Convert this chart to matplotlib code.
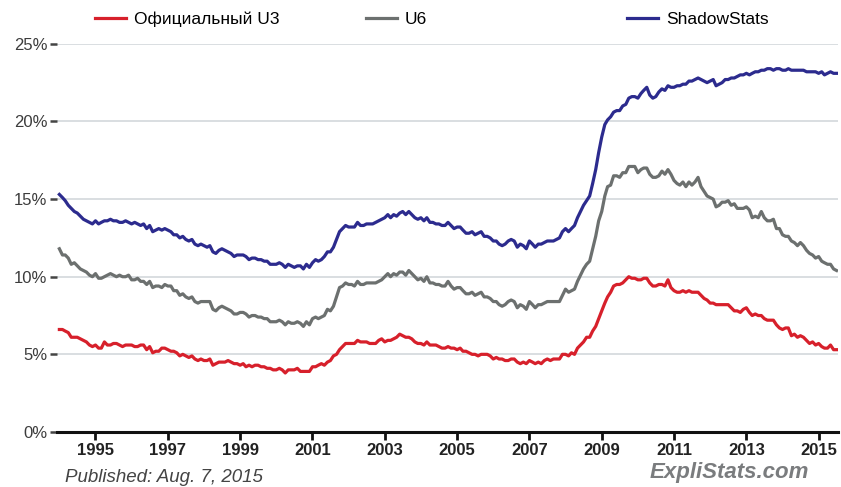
# -*- coding: utf-8 -*-
"""
Безработица в США: официальная U3, U6 и оценка ShadowStats (1994-2015)
"""

import datetime
import matplotlib
matplotlib.use('Agg')
import matplotlib.pyplot as plt
import matplotlib.dates as mdates
import pandas as pd

matplotlib.rcParams['font.family'] = ['Liberation Sans', 'DejaVu Sans']

# помесячные значения, янв. 1994 - июль 2015
u3 = [
    6.6, 6.6, 6.5, 6.4, 6.1, 6.1, 6.1, 6.0, 5.9, 5.8, 5.6, 5.5,
    5.6, 5.4, 5.4, 5.8, 5.6, 5.6, 5.7, 5.7, 5.6, 5.5, 5.6, 5.6,
    5.6, 5.5, 5.5, 5.6, 5.6, 5.3, 5.5, 5.1, 5.2, 5.2, 5.4, 5.4,
    5.3, 5.2, 5.2, 5.1, 4.9, 5.0, 4.9, 4.8, 4.9, 4.7, 4.6, 4.7,
    4.6, 4.6, 4.7, 4.3, 4.4, 4.5, 4.5, 4.5, 4.6, 4.5, 4.4, 4.4,
    4.3, 4.4, 4.2, 4.3, 4.2, 4.3, 4.3, 4.2, 4.2, 4.1, 4.1, 4.0,
    4.0, 4.1, 4.0, 3.8, 4.0, 4.0, 4.0, 4.1, 3.9, 3.9, 3.9, 3.9,
    4.2, 4.2, 4.3, 4.4, 4.3, 4.5, 4.6, 4.9, 5.0, 5.3, 5.5, 5.7,
    5.7, 5.7, 5.7, 5.9, 5.8, 5.8, 5.8, 5.7, 5.7, 5.7, 5.9, 6.0,
    5.8, 5.9, 5.9, 6.0, 6.1, 6.3, 6.2, 6.1, 6.1, 6.0, 5.8, 5.7,
    5.7, 5.6, 5.8, 5.6, 5.6, 5.6, 5.5, 5.4, 5.4, 5.5, 5.4, 5.4,
    5.3, 5.4, 5.2, 5.2, 5.1, 5.0, 5.0, 4.9, 5.0, 5.0, 5.0, 4.9,
    4.7, 4.8, 4.7, 4.7, 4.6, 4.6, 4.7, 4.7, 4.5, 4.4, 4.5, 4.4,
    4.6, 4.5, 4.4, 4.5, 4.4, 4.6, 4.7, 4.6, 4.7, 4.7, 4.7, 5.0,
    5.0, 4.9, 5.1, 5.0, 5.4, 5.6, 5.8, 6.1, 6.1, 6.5, 6.8, 7.3,
    7.8, 8.3, 8.7, 9.0, 9.4, 9.5, 9.5, 9.6, 9.8, 10.0, 9.9, 9.9,
    9.8, 9.8, 9.9, 9.9, 9.6, 9.4, 9.4, 9.5, 9.5, 9.4, 9.8, 9.3,
    9.1, 9.0, 9.0, 9.1, 9.0, 9.1, 9.0, 9.0, 9.0, 8.8, 8.6, 8.5,
    8.3, 8.3, 8.2, 8.2, 8.2, 8.2, 8.2, 8.0, 7.8, 7.8, 7.7, 7.9,
    8.0, 7.7, 7.5, 7.6, 7.5, 7.5, 7.3, 7.2, 7.2, 7.2, 6.9, 6.7,
    6.6, 6.7, 6.7, 6.2, 6.3, 6.1, 6.2, 6.1, 5.9, 5.7, 5.8, 5.6,
    5.7, 5.5, 5.4, 5.4, 5.6, 5.3, 5.3,
]

u6 = [
    11.8, 11.4, 11.4, 11.2, 10.8, 10.9, 10.7, 10.5, 10.4, 10.3, 10.1, 10.0,
    10.2, 9.9, 9.9, 10.0, 10.1, 10.2, 10.1, 10.0, 10.1, 10.0, 10.0, 10.1,
    9.8, 9.8, 9.9, 9.7, 9.7, 9.5, 9.7, 9.3, 9.4, 9.4, 9.3, 9.5,
    9.4, 9.4, 9.1, 9.1, 8.8, 8.9, 8.7, 8.6, 8.7, 8.4, 8.3, 8.4,
    8.4, 8.4, 8.4, 7.9, 7.8, 8.0, 8.1, 8.0, 7.9, 7.8, 7.6, 7.6,
    7.7, 7.7, 7.6, 7.4, 7.5, 7.5, 7.4, 7.4, 7.3, 7.3, 7.1, 7.1,
    7.1, 7.2, 7.1, 6.9, 7.1, 7.0, 7.0, 7.1, 7.0, 6.8, 7.1, 6.9,
    7.3, 7.4, 7.3, 7.4, 7.5, 7.9, 7.8, 8.1, 8.7, 9.3, 9.4, 9.6,
    9.5, 9.5, 9.4, 9.7, 9.5, 9.5, 9.6, 9.6, 9.6, 9.6, 9.7, 9.8,
    10.0, 10.2, 10.0, 10.2, 10.1, 10.3, 10.3, 10.1, 10.4, 10.2, 10.0, 9.8,
    9.9, 9.7, 10.0, 9.6, 9.6, 9.5, 9.5, 9.4, 9.4, 9.7, 9.4, 9.2,
    9.3, 9.3, 9.1, 8.9, 8.9, 9.0, 8.8, 8.9, 9.0, 8.7, 8.7, 8.6,
    8.4, 8.4, 8.2, 8.1, 8.2, 8.4, 8.5, 8.4, 8.0, 8.2, 8.1, 7.9,
    8.4, 8.2, 8.0, 8.2, 8.2, 8.3, 8.4, 8.4, 8.4, 8.4, 8.4, 8.8,
    9.2, 9.0, 9.1, 9.2, 9.7, 10.1, 10.5, 10.8, 11.0, 11.8, 12.6, 13.6,
    14.2, 15.2, 15.8, 15.9, 16.5, 16.5, 16.4, 16.7, 16.7, 17.1, 17.1, 17.1,
    16.7, 16.9, 17.0, 17.0, 16.6, 16.4, 16.4, 16.5, 16.8, 16.6, 16.9, 16.6,
    16.2, 16.0, 15.9, 16.1, 15.8, 16.1, 15.9, 16.1, 16.4, 15.8, 15.5, 15.2,
    15.1, 15.0, 14.5, 14.6, 14.8, 14.8, 14.9, 14.6, 14.7, 14.4, 14.4, 14.4,
    14.5, 14.3, 13.8, 13.9, 13.8, 14.2, 13.8, 13.6, 13.6, 13.7, 13.1, 13.1,
    12.7, 12.6, 12.6, 12.3, 12.2, 12.0, 12.2, 12.0, 11.7, 11.5, 11.4, 11.2,
    11.3, 11.0, 10.9, 10.8, 10.8, 10.5, 10.4,
]

shadowstats = [
    15.3, 15.1, 14.9, 14.6, 14.4, 14.2, 14.1, 13.9, 13.7, 13.6, 13.5, 13.4,
    13.6, 13.4, 13.5, 13.6, 13.6, 13.7, 13.6, 13.6, 13.5, 13.5, 13.6, 13.5,
    13.4, 13.5, 13.4, 13.3, 13.4, 13.1, 13.3, 12.9, 13.0, 13.1, 13.0, 13.1,
    13.0, 12.9, 12.7, 12.7, 12.5, 12.6, 12.4, 12.3, 12.4, 12.1, 12.0, 12.1,
    12.0, 11.9, 12.0, 11.6, 11.5, 11.7, 11.8, 11.7, 11.6, 11.5, 11.3, 11.4,
    11.4, 11.4, 11.3, 11.1, 11.2, 11.2, 11.1, 11.1, 11.0, 11.0, 10.8, 10.8,
    10.8, 10.9, 10.8, 10.6, 10.8, 10.7, 10.6, 10.7, 10.7, 10.5, 10.8, 10.6,
    10.9, 11.1, 11.0, 11.1, 11.3, 11.6, 11.6, 11.9, 12.4, 12.9, 13.1, 13.3,
    13.2, 13.2, 13.2, 13.5, 13.3, 13.3, 13.4, 13.4, 13.4, 13.5, 13.6, 13.7,
    13.8, 14.0, 13.8, 14.0, 13.9, 14.1, 14.2, 14.0, 14.2, 14.0, 13.8, 13.7,
    13.8, 13.6, 13.8, 13.5, 13.5, 13.4, 13.4, 13.3, 13.3, 13.5, 13.3, 13.1,
    13.2, 13.2, 13.0, 12.8, 12.8, 12.9, 12.7, 12.8, 12.9, 12.6, 12.6, 12.5,
    12.3, 12.3, 12.1, 12.0, 12.1, 12.3, 12.4, 12.3, 11.9, 12.1, 12.0, 11.8,
    12.3, 12.1, 11.9, 12.1, 12.1, 12.2, 12.3, 12.3, 12.3, 12.4, 12.5, 12.9,
    13.1, 12.9, 13.1, 13.3, 13.8, 14.2, 14.6, 14.9, 15.2, 16.0, 16.9, 18.0,
    19.0, 19.8, 20.1, 20.3, 20.6, 20.7, 20.7, 21.0, 21.1, 21.5, 21.6, 21.6,
    21.5, 21.8, 22.0, 22.2, 21.7, 21.5, 21.6, 21.9, 22.1, 22.0, 22.3, 22.2,
    22.2, 22.3, 22.3, 22.4, 22.4, 22.6, 22.6, 22.7, 22.8, 22.7, 22.6, 22.5,
    22.6, 22.7, 22.3, 22.4, 22.5, 22.7, 22.7, 22.8, 22.8, 22.9, 23.0, 23.0,
    23.1, 23.0, 23.1, 23.2, 23.2, 23.3, 23.3, 23.4, 23.4, 23.3, 23.4, 23.4,
    23.3, 23.3, 23.4, 23.3, 23.3, 23.3, 23.3, 23.3, 23.2, 23.2, 23.2, 23.2,
    23.1, 23.2, 23.0, 23.1, 23.2, 23.1, 23.1,
]

months = pd.date_range('1994-01-01', periods=len(u3), freq='MS')
tick_years = list(range(1995, 2016, 2))
y_ticks = [0, 5, 10, 15, 20, 25]

series = [
    ('Официальный U3', u3, '#d7202b'),
    ('U6', u6, '#6c706f'),
    ('ShadowStats', shadowstats, '#2c2b8e'),
]
# левый край каждой подписи легенды (доля ширины рисунка)
legend_x = [0.105, 0.427, 0.737]

fig = plt.figure(figsize=(8.41, 4.87), dpi=100)
ax = fig.add_axes([0.068, 0.113, 0.928, 0.797])

lines = []
for name, values, color in series:
    line, = ax.plot(months, values, color=color, linewidth=2.3, label=name,
                    solid_joinstyle='round', zorder=3)
    lines.append(line)

# оси
ax.set_ylim(0, 25)
ax.set_xlim(datetime.date(1993, 12, 10), datetime.date(2015, 7, 12))
ax.set_yticks(y_ticks)
ax.set_yticklabels([f'{v}%' for v in y_ticks])
for v in y_ticks[1:]:
    ax.axhline(v, color='#d3d8db', linewidth=1.2, zorder=1)

ax.set_xticks([datetime.date(y, 1, 1) for y in tick_years])
ax.xaxis.set_major_formatter(mdates.DateFormatter('%Y'))
for lbl in ax.get_xticklabels():
    lbl.set_fontweight('bold')

for side in ['top', 'right', 'left']:
    ax.spines[side].set_visible(False)
ax.spines['bottom'].set_linewidth(2.2)
ax.spines['bottom'].set_color('#111111')

ax.tick_params(axis='y', length=5, width=1.8, color='#444444',
               labelsize=12, labelcolor='#3c3c3c', pad=2)
ax.tick_params(axis='x', length=6, width=2, color='#111111',
               labelsize=12, labelcolor='#222222', pad=2)

# легенда: три отдельных элемента в строку
for line, x0 in zip(lines, legend_x):
    fig.legend(handles=[line], loc='upper left', bbox_to_anchor=(x0, 0.99),
               frameon=False, fontsize=12.5, handlelength=1.8,
               handletextpad=0.45, borderaxespad=0)

# подписи
fig.text(0.077, 0.010, 'Published: Aug. 7, 2015', fontsize=13.5,
         style='italic', color='#444444')
fig.text(0.773, 0.018, 'ExpliStats.com', fontsize=16, style='italic',
         fontweight='bold', color='#7a7c7e')

plt.savefig('out.png', dpi=100)
plt.close()
